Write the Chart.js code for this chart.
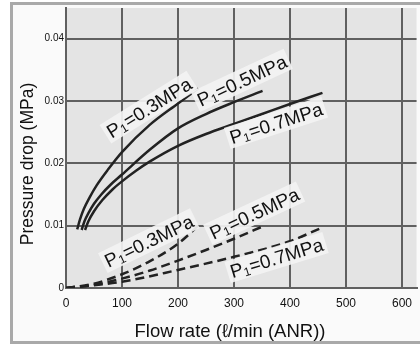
<!DOCTYPE html>
<html>
<head>
<meta charset="utf-8">
<script src="https://cdn.jsdelivr.net/npm/chart.js@4/dist/chart.umd.min.js"></script>
<style>
  html, body { margin: 0; padding: 0; background: #fff; }
  #wrap { width: 420px; height: 347px; }
</style>
</head>
<body>
<div id="wrap"><canvas id="pdChart" width="420" height="347"></canvas></div>
<script>
// Pressure drop vs flow rate
const xTicks = [0, 100, 200, 300, 400, 500, 600];
const yTicks = [0, 0.01, 0.02, 0.03, 0.04];

// solid curves (upper family)
const flowA03 = [20, 25, 32, 42, 55, 75, 100, 150, 200, 236];
const dropA03 = [0.0094, 0.011, 0.0127, 0.0145, 0.0165, 0.019, 0.0218, 0.0262, 0.0296, 0.032];
const flowA05 = [28, 33, 40, 50, 63, 80, 100, 150, 200, 250, 300, 351];
const dropA05 = [0.0093, 0.0107, 0.012, 0.0135, 0.015, 0.0166, 0.0182, 0.0222, 0.0256, 0.0279, 0.0298, 0.0316];
const flowA07 = [34, 40, 50, 65, 83, 100, 125, 150, 200, 250, 300, 350, 400, 458];
const dropA07 = [0.0093, 0.0107, 0.0123, 0.0141, 0.0158, 0.0171, 0.0188, 0.0203, 0.0228, 0.0247, 0.0263, 0.0279, 0.0295, 0.0313];

// dashed curves (lower family)
const flowB03 = [0, 50, 100, 150, 200, 240];
const dropB03 = [0, 0.0007, 0.0022, 0.0043, 0.0071, 0.0103];
const flowB05 = [0, 50, 100, 150, 200, 250, 300, 352];
const dropB05 = [0, 0.0005, 0.0015, 0.0028, 0.0044, 0.0061, 0.0079, 0.0099];
const flowB07 = [0, 100, 200, 300, 400, 455];
const dropB07 = [0, 0.001, 0.0029, 0.005, 0.0075, 0.0096];

// curve labels: pressure text, anchor (data units), angle in degrees
const labelText = ['0.3', '0.5', '0.7', '0.3', '0.5', '0.7'];
const labelFlow = [148, 314, 375, 148, 336, 376];
const labelDrop = [0.029, 0.0333, 0.0265, 0.0076, 0.012, 0.0049];
const labelAngle = [-32, -25, -18, -26, -25, -17];

const FONT = '"Liberation Sans", Arial, Helvetica, sans-serif';

function pts(xs, ys) {
  return xs.map((x, i) => ({ x: x, y: ys[i] }));
}

function curve(xs, ys, dashed) {
  return {
    data: pts(xs, ys),
    borderColor: '#222',
    borderWidth: 2.5,
    borderDash: dashed ? [9, 5] : [],
    pointRadius: 0,
    fill: false,
    cubicInterpolationMode: 'monotone'
  };
}

const backdrop = {
  id: 'backdrop',
  beforeDraw(chart) {
    const { ctx, chartArea: a } = chart;
    ctx.save();
    ctx.fillStyle = '#ffffff';
    ctx.fillRect(0, 0, chart.width, chart.height);
    ctx.fillStyle = '#fafafa';
    ctx.fillRect(12, 4, chart.width, 338);
    ctx.strokeStyle = '#a9a9a9';
    ctx.lineWidth = 3;
    ctx.strokeRect(11.5, 3.5, chart.width + 10, 339);
    ctx.fillStyle = '#e4e4e4';
    ctx.fillRect(a.left, a.top, a.right - a.left, a.bottom - a.top);
    ctx.restore();
  }
};

const titles = {
  id: 'titles',
  afterDraw(chart) {
    const ctx = chart.ctx;
    ctx.save();
    ctx.fillStyle = '#111';
    ctx.textAlign = 'center';
    ctx.textBaseline = 'alphabetic';
    ctx.font = '18.5px ' + FONT;
    ctx.fillText('Flow rate (\u2113/min (ANR))', 230, 337);
    ctx.font = '17.5px ' + FONT;
    ctx.translate(33, 164);
    ctx.rotate(-Math.PI / 2);
    ctx.fillText('Pressure drop (MPa)', 0, 0);
    ctx.restore();
  }
};

const curveLabels = {
  id: 'curveLabels',
  afterDatasetsDraw(chart) {
    const ctx = chart.ctx;
    const xs = chart.scales.x, ys = chart.scales.y;
    labelText.forEach((txt, i) => {
      const px = xs.getPixelForValue(labelFlow[i]);
      const py = ys.getPixelForValue(labelDrop[i]);
      const big = '19px ' + FONT, small = '12px ' + FONT;
      const tail = '=' + txt + 'MPa';
      ctx.save();
      ctx.translate(px, py);
      ctx.rotate(labelAngle[i] * Math.PI / 180);
      ctx.font = big;
      const wP = ctx.measureText('P').width;
      const wTail = ctx.measureText(tail).width;
      ctx.font = small;
      const w1 = ctx.measureText('1').width + 0.5;
      const total = wP + w1 + wTail;
      ctx.fillStyle = 'rgba(243,243,243,0.92)';
      ctx.fillRect(-total / 2 - 3, -11, total + 6, 22);
      ctx.fillStyle = '#111';
      ctx.textBaseline = 'alphabetic';
      let x = -total / 2;
      ctx.font = big;
      ctx.fillText('P', x, 7);
      x += wP;
      ctx.font = small;
      ctx.fillText('1', x, 9);
      x += w1;
      ctx.font = big;
      ctx.fillText(tail, x, 7);
      ctx.restore();
    });
  }
};

new Chart(document.getElementById('pdChart').getContext('2d'), {
  type: 'line',
  data: {
    datasets: [
      curve(flowA03, dropA03, false),
      curve(flowA05, dropA05, false),
      curve(flowA07, dropA07, false),
      curve(flowB03, dropB03, true),
      curve(flowB05, dropB05, true),
      curve(flowB07, dropB07, true)
    ]
  },
  options: {
    responsive: false,
    animation: false,
    layout: { padding: { left: 12, right: 0, top: 4, bottom: 0 } },
    plugins: { legend: { display: false }, tooltip: { enabled: false } },
    scales: {
      x: {
        type: 'linear',
        min: 0,
        max: 626,
        afterFit(scale) { scale.height = 59; },
        afterBuildTicks(scale) { scale.ticks = xTicks.map((v) => ({ value: v })); },
        grid: { color: '#606060', lineWidth: 2, drawTicks: false },
        border: { color: '#606060', width: 2 },
        ticks: {
          padding: 8,
          color: '#111',
          font: { family: FONT, size: 12 },
          maxRotation: 0,
          callback: (v) => String(v)
        }
      },
      y: {
        type: 'linear',
        min: 0,
        max: 0.0449,
        afterFit(scale) { scale.width = 54; },
        afterBuildTicks(scale) { scale.ticks = yTicks.map((v) => ({ value: v })); },
        grid: { color: '#606060', lineWidth: 2, drawTicks: false },
        border: { color: '#606060', width: 2 },
        ticks: {
          padding: 2,
          color: '#111',
          font: { family: FONT, size: 10 },
          callback: (v) => (v === 0 ? '0' : v.toFixed(2))
        }
      }
    }
  },
  plugins: [backdrop, titles, curveLabels]
});
</script>
</body>
</html>
